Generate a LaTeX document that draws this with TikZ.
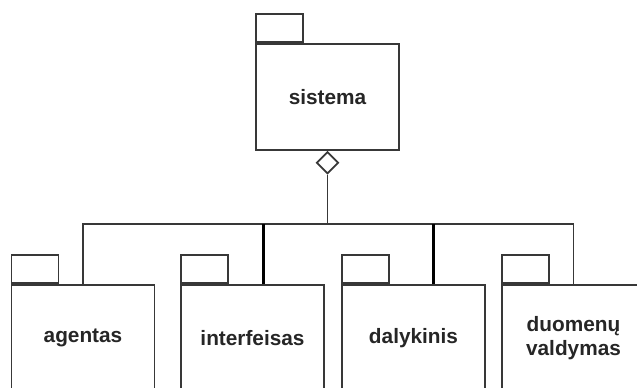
\documentclass[tikz,border=0pt]{standalone}
\usepackage{fontspec}
\setmainfont{Liberation Sans}
\usetikzlibrary{shapes.geometric}
\begin{document}
\begin{tikzpicture}[x=1pt,y=-1pt,
  line/.style={draw=black!78,line width=1.7pt},
  pkg/.style={line,fill=white,minimum width=143pt,minimum height=106pt,inner sep=0pt,
    align=center,font=\fontsize{20.8}{23.5}\selectfont\bfseries,text=black!85},
  tabbox/.style={line,fill=white,minimum width=47pt,minimum height=28pt,inner sep=0pt,anchor=south west},
  conn/.style={line},
  heavy/.style={draw=black,line width=3pt}]
\useasboundingbox (0,0) rectangle (637,388);
\clip (0,0) rectangle (637,388);
% top package
\node[pkg] (sis) at (327.5,97) {sistema};
\node[tabbox] (sistab) at (sis.north west) {};
\node[line,fill=white,diamond,minimum width=22pt,minimum height=22pt,inner sep=0pt,anchor=north] (dia) at (sis.south) {};
% bottom packages
\node[pkg] (ag) at (83,338) {agentas};
\node[tabbox] (agtab) at (ag.north west) {};
\node[pkg] (inf) at (252.5,338) {interfeisas};
\node[tabbox] (inftab) at (inf.north west) {};
\node[pkg] (dal) at (413.5,338) {dalykinis};
\node[tabbox] (daltab) at (dal.north west) {};
\node[pkg] (duo) at (573.5,338) {duomenų\\valdymas};
\node[tabbox] (duotab) at (duo.north west) {};
% connectors
\coordinate (bus) at (dia.south |- 0,224);
\coordinate (busL) at (ag.north |- bus);
\coordinate (busR) at (duo.north |- bus);
\draw[conn] (dia.south) -- (bus);
\draw[conn] (ag.north) -- (busL) -- (busR) -- (duo.north);
\draw[heavy] ([xshift=10.5pt]inf.north) -- ([xshift=10.5pt]inf.north |- bus);
\draw[heavy] ([xshift=19.5pt]dal.north) -- ([xshift=19.5pt]dal.north |- bus);
\end{tikzpicture}
\end{document}
